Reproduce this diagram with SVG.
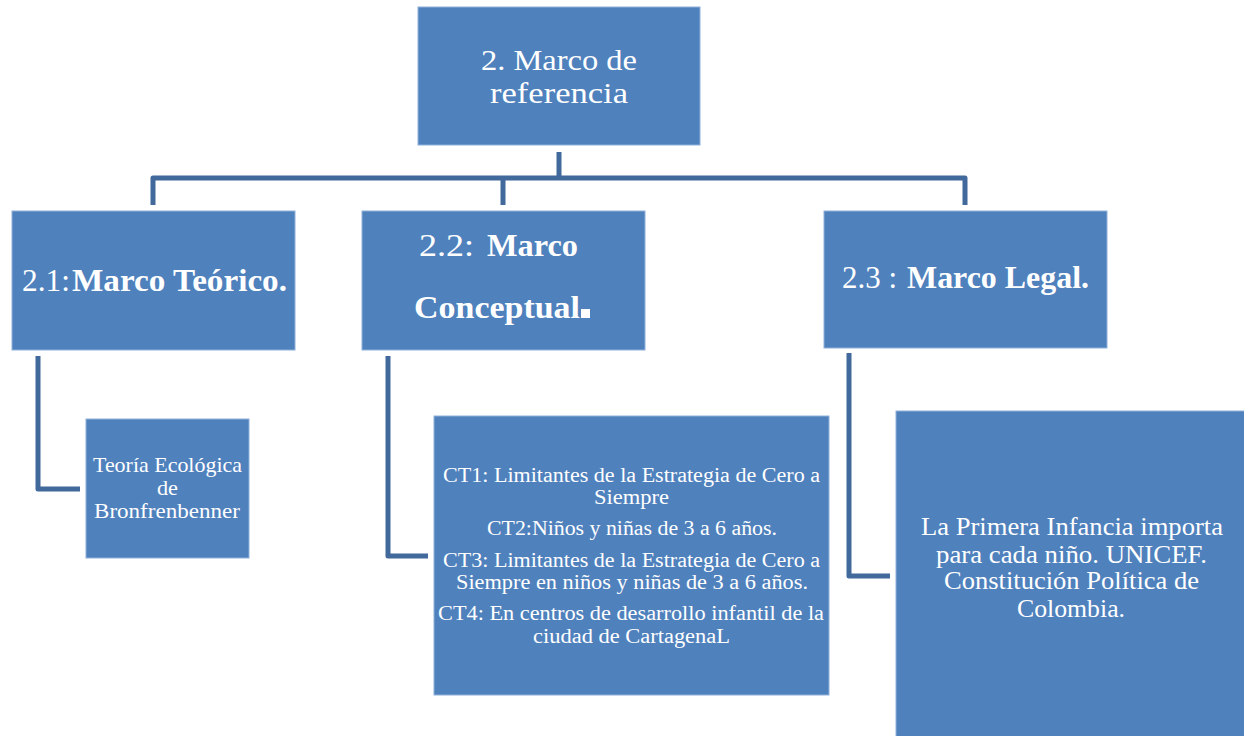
<svg xmlns="http://www.w3.org/2000/svg" width="1244" height="736" viewBox="0 0 1244 736">
<style>
.box{fill:#4f81bd;stroke:#8fb0da;stroke-width:1}
.conn{fill:none;stroke:#41699c;stroke-width:5;stroke-linejoin:round}
.t{font-family:"Liberation Serif","DejaVu Serif",serif;fill:#ffffff}
.b{font-weight:bold}
</style>
<rect width="1244" height="736" fill="#ffffff"/>
<g id="connectors">
<path class="conn" d="M559 152 V178 M153 205 V178 H965 V205 M503 178 V205"/>
<path class="conn" d="M38 356 V489 H80"/>
<path class="conn" d="M388 356 V556 H428"/>
<path class="conn" d="M849 353 V576 H890"/>
</g>
<g id="n2">
<rect class="box" x="418" y="7" width="282" height="138"/>
<text class="t" font-size="29"><tspan x="481" y="70" textLength="156" lengthAdjust="spacingAndGlyphs">2. Marco de</tspan><tspan x="490" y="103" textLength="138" lengthAdjust="spacingAndGlyphs">referencia</tspan></text>
</g>
<g id="n21">
<rect class="box" x="12" y="211" width="283" height="139"/>
<text class="t" font-size="32"><tspan x="22" y="291" textLength="48" lengthAdjust="spacingAndGlyphs">2.1:</tspan><tspan class="b" x="72" y="291" textLength="215" lengthAdjust="spacingAndGlyphs">Marco Teórico.</tspan></text>
</g>
<g id="n22">
<rect class="box" x="362" y="211" width="283" height="139"/>
<text class="t" font-size="32"><tspan x="419" y="256" textLength="55" lengthAdjust="spacingAndGlyphs">2.2:</tspan><tspan class="b" x="487" y="256" textLength="91" lengthAdjust="spacingAndGlyphs">Marco</tspan><tspan class="b" x="414" y="318" textLength="166" lengthAdjust="spacingAndGlyphs">Conceptual</tspan></text>
<rect x="581" y="309" width="9" height="9" fill="#ffffff"/>
</g>
<g id="n23">
<rect class="box" x="824" y="211" width="283" height="137"/>
<text class="t" font-size="32"><tspan x="842" y="288" textLength="55" lengthAdjust="spacingAndGlyphs">2.3 :</tspan><tspan class="b" x="907" y="288" textLength="182" lengthAdjust="spacingAndGlyphs">Marco Legal.</tspan></text>
</g>
<g id="teoria">
<rect class="box" x="86" y="419" width="163" height="139"/>
<text class="t" font-size="21"><tspan x="93" y="472" textLength="149" lengthAdjust="spacingAndGlyphs">Teoría Ecológica</tspan><tspan x="157" y="495" textLength="21" lengthAdjust="spacingAndGlyphs">de</tspan><tspan x="94" y="518" textLength="146" lengthAdjust="spacingAndGlyphs">Bronfrenbenner</tspan></text>
</g>
<g id="ct">
<rect class="box" x="434" y="416" width="395" height="279"/>
<text class="t" font-size="20">
<tspan x="443" y="482" textLength="377" lengthAdjust="spacingAndGlyphs">CT1: Limitantes de la Estrategia de Cero a</tspan>
<tspan x="594" y="504" textLength="75" lengthAdjust="spacingAndGlyphs">Siempre</tspan>
<tspan x="487" y="535" textLength="290" lengthAdjust="spacingAndGlyphs">CT2:Niños y niñas de 3 a 6 años.</tspan>
<tspan x="443" y="567" textLength="377" lengthAdjust="spacingAndGlyphs">CT3: Limitantes de la Estrategia de Cero a</tspan>
<tspan x="456" y="589" textLength="352" lengthAdjust="spacingAndGlyphs">Siempre en niños y niñas de 3 a 6 años.</tspan>
<tspan x="438" y="620" textLength="386" lengthAdjust="spacingAndGlyphs">CT4: En centros de desarrollo infantil de la</tspan>
<tspan x="533" y="643" textLength="197" lengthAdjust="spacingAndGlyphs">ciudad de CartagenaL</tspan>
</text>
</g>
<g id="legal">
<rect class="box" x="896" y="411" width="360" height="340"/>
<text class="t" font-size="25">
<tspan x="921" y="535" textLength="302" lengthAdjust="spacingAndGlyphs">La Primera Infancia importa</tspan>
<tspan x="936" y="563" textLength="271" lengthAdjust="spacingAndGlyphs">para cada niño. UNICEF.</tspan>
<tspan x="944" y="589" textLength="255" lengthAdjust="spacingAndGlyphs">Constitución Política de</tspan>
<tspan x="1017" y="617" textLength="108" lengthAdjust="spacingAndGlyphs">Colombia.</tspan>
</text>
</g>
</svg>
